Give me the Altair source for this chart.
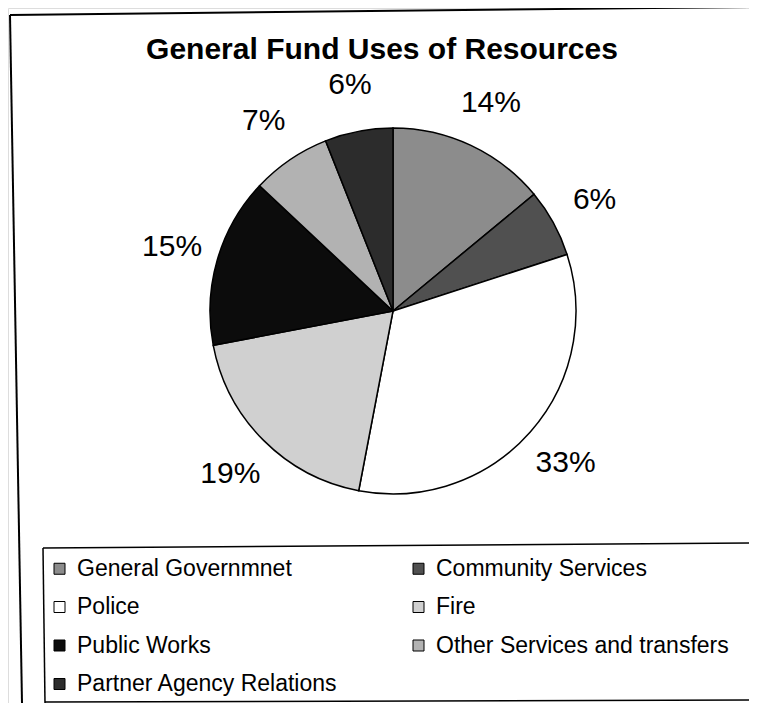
import altair as alt
import pandas as pd

# ---- data ----
categories = ["General Governmnet", "Community Services", "Police", "Fire",
              "Public Works", "Other Services and transfers", "Partner Agency Relations"]
shares = [14, 6, 33, 19, 15, 7, 6]
share_labels = ["14%", "6%", "33%", "19%", "15%", "7%", "6%"]
colors = ["#8c8c8c", "#505050", "#ffffff", "#d0d0d0", "#0c0c0c", "#b2b2b2", "#2c2c2c"]
title_text = "General Fund Uses of Resources"

df = pd.DataFrame({"category": categories, "share": shares,
                   "label": share_labels, "idx": list(range(len(categories)))})

W, H = 741, 695
CX, CY = 385, 303      # pie centre (plot coords)
R = 183
FONT = "Liberation Sans"

base = alt.Chart(df).encode(
    theta=alt.Theta("share:Q", stack=True),
    order=alt.Order("idx:Q", sort="ascending"),
)

pie = base.mark_arc(outerRadius=R, stroke="black", strokeWidth=1.5).encode(
    x=alt.value(CX), y=alt.value(CY),
    color=alt.Color(
        "category:N",
        scale=alt.Scale(domain=categories, range=colors),
        sort=categories,
        legend=alt.Legend(
            title=None, orient="none", legendX=40, legendY=549,
            direction="horizontal", columns=2,
            symbolType="square", symbolSize=121,
            symbolStrokeColor="black", symbolStrokeWidth=1,
            labelFont=FONT, labelFontSize=23, labelColor="black",
            labelOffset=6, rowPadding=14.5, columnPadding=69, padding=0,
            labelLimit=500,
        ),
    ),
)

pct = base.mark_text(radius=230, fontSize=30, font=FONT, color="black",
                     align="center", baseline="middle").encode(
    x=alt.value(CX), y=alt.value(CY), text="label:N")

title = alt.Chart(pd.DataFrame({"t": [title_text]})).mark_text(
    font=FONT, fontSize=30, fontWeight="bold", color="black",
    align="center", baseline="middle").encode(
    x=alt.value(374), y=alt.value(42), text="t:N")


def rule(x1, y1, x2, y2, w=2):
    return alt.Chart(alt.Data(values=[{}])).mark_rule(
        color="black", strokeWidth=w).encode(
        x=alt.value(x1), y=alt.value(y1), x2=alt.value(x2), y2=alt.value(y2))


frame = [
    rule(2, 7, 741, -1),        # outer top
    rule(2, 7, 14, 695),        # outer left
    rule(35, 540, 741, 535, 1.5),   # legend top
    rule(35, 540, 37, 695, 1.5),    # legend left
    rule(37, 694, 741, 692, 1.5),   # legend bottom
]

chart = alt.layer(pie, pct, title, *frame).properties(
    width=W, height=H, autosize="none", padding=0
).configure_view(stroke=None).configure(font=FONT)

chart.save("out.html", embed_options={"renderer": "svg", "actions": False})
